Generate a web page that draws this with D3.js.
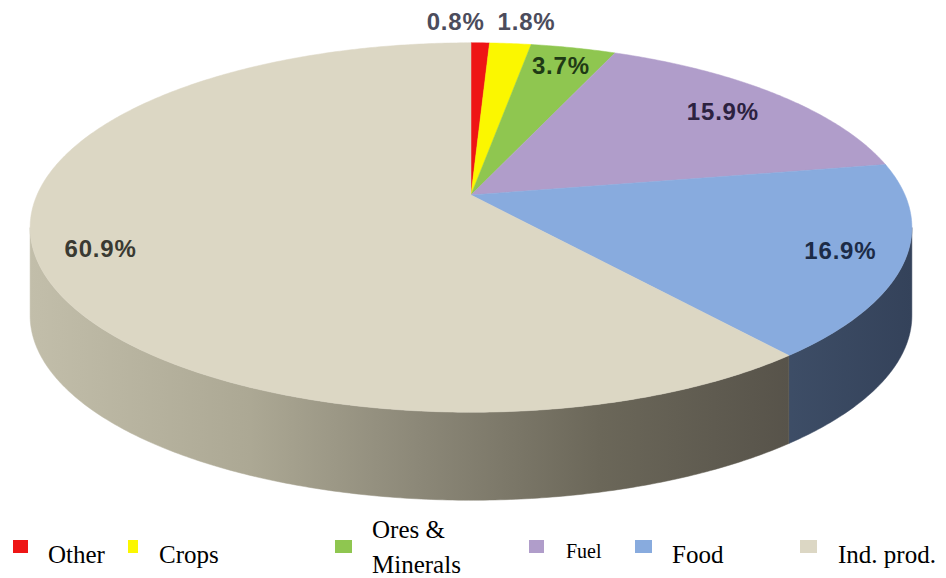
<!DOCTYPE html>
<html><head><meta charset="utf-8">
<script src="https://cdn.jsdelivr.net/npm/d3@7"></script>
<style>body{margin:0;background:#fff}svg{display:block}</style>
</head><body>
<svg id="c" width="946" height="578"></svg>
<script>
const categories = ["Other","Crops","Ores & Minerals","Fuel","Food","Ind. prod."];
const values = [0.8, 1.8, 3.7, 15.9, 16.9, 60.9];
const labels = ["0.8%","1.8%","3.7%","15.9%","16.9%","60.9%"];
const legendLines = [["Other"],["Crops"],["Ores &","Minerals"],["Fuel"],["Food"],["Ind. prod."]];
const topColors = ["#ee1515","#fbf700","#8fc650","#b09dca","#88abde","#dcd7c4"];
const labelColors = ["#4c4c5c","#4c4c5c","#1f3a15","#2c2240","#1c2b47","#3a3a32"];

const svg = d3.select("#c");
const W=946,H=578;
const cx=471, cy=195, sx=434, sy=179, k=0.176, depth=88;
function proj(a, f=1, dz=0){
  const u=Math.sin(a)*f, v=-Math.cos(a)*f, w=1-k*v;
  return [cx+sx*u/w, cy+sy*v/w+dz];
}
const pie = d3.pie().sort(null).value(d=>d);
const arcs = pie(values);

const defs = svg.append("defs");
const g1 = defs.append("linearGradient").attr("id","gInd").attr("gradientUnits","userSpaceOnUse")
  .attr("x1",30).attr("x2",790).attr("y1",0).attr("y2",0);
[[0,"#c2beaa"],[0.29,"#aca894"],[0.51,"#8c8878"],[0.75,"#6b6759"],[1,"#57534a"]].forEach(s=>g1.append("stop").attr("offset",s[0]).attr("stop-color",s[1]));
const g2 = defs.append("linearGradient").attr("id","gFood").attr("gradientUnits","userSpaceOnUse")
  .attr("x1",780).attr("x2",912).attr("y1",0).attr("y2",0);
[[0,"#3e4e67"],[1,"#34425a"]].forEach(s=>g2.append("stop").attr("offset",s[0]).attr("stop-color",s[1]));
const sideFill = ["#9a1010","#b0ad00","#5f8a35","#7b6d90","url(#gFood)","url(#gInd)"];

const aL = Math.acos(-k), aR = 2*Math.PI - Math.acos(-k);
function arcPts(a0,a1,dz){
  const n=Math.max(2,Math.ceil((a1-a0)/0.01));
  return d3.range(n+1).map(i=>proj(a0+(a1-a0)*i/n,1,dz));
}
// sides
arcs.forEach((d,i)=>{
  const a0=Math.max(d.startAngle,aL), a1=Math.min(d.endAngle,aR);
  if(a1<=a0) return;
  const pts = arcPts(a0,a1,0).concat(arcPts(a0,a1,depth).reverse());
  svg.append("path").attr("d",d3.line()(pts)+"Z").attr("fill",sideFill[i]).attr("stroke",sideFill[i]).attr("stroke-width",0.5);
});
// top faces
arcs.forEach((d,i)=>{
  const pts = [proj(0,0)].concat(arcPts(d.startAngle,d.endAngle,0));
  svg.append("path").attr("d",d3.line()(pts)+"Z").attr("fill",topColors[i]).attr("stroke",topColors[i]).attr("stroke-width",0.5);
});
// labels
const lf = "'Liberation Sans', Arial, sans-serif";
arcs.forEach((d,i)=>{
  const t = svg.append("text").text(labels[i]).attr("font-family",lf).attr("font-weight","bold")
    .attr("font-size",24).attr("letter-spacing",0.8).attr("fill",labelColors[i]);
  if(i<2){
    const b = proj(arcs[0].endAngle,1);
    t.attr("x", i===0? b[0]-5 : b[0]+8).attr("y",30).attr("text-anchor", i===0?"end":"start");
  } else {
    const f = i===3?0.81:0.86;
    const p = proj((d.startAngle+d.endAngle)/2, f);
    t.attr("x",p[0]).attr("y",p[1]+8).attr("text-anchor","middle");
  }
});
// legend
const legX = d3.scalePoint().domain(categories).range([13,800]);
const swX = [13,128,335,529,635,800];
const swW = [15,10,17,15,17,17];
const txX = [48,159,372,566,672,838];
const ff = "'Liberation Serif', 'Times New Roman', serif";
categories.forEach((c,i)=>{
  svg.append("rect").attr("x",swX[i]).attr("y",540).attr("width",swW[i]).attr("height",13).attr("fill",topColors[i]);
  const lines = legendLines[i];
  const t = svg.append("text").attr("font-family",ff).attr("fill","#000")
    .attr("font-size", c==="Fuel"?20:25);
  if(lines.length===1){
    t.attr("x",txX[i]).attr("y", c==="Fuel"?558:563).text(lines[0]);
  } else {
    lines.forEach((l,j)=>t.append("tspan").attr("x",txX[i]).attr("y",538+35*j).text(l));
  }
});
</script>
</body></html>
